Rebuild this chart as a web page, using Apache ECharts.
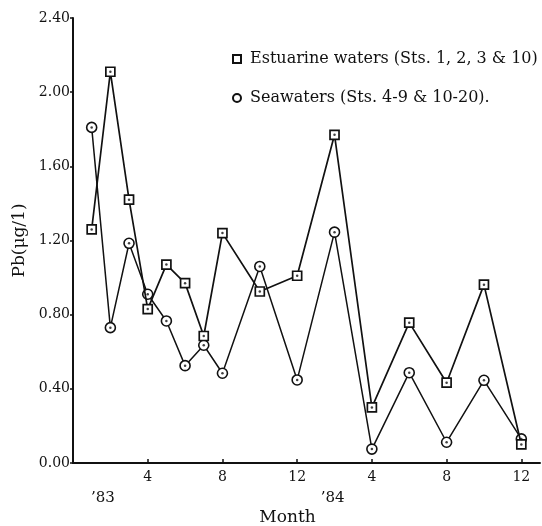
<!DOCTYPE html>
<html><head><meta charset="utf-8">
<script src="https://cdn.jsdelivr.net/npm/echarts@6/dist/echarts.min.js"></script>
<style>html,body{margin:0;padding:0;background:#fff}#c{width:542px;height:526px}</style>
</head><body><div id="c"></div>
<script>
const months = [1, 2, 3, 4, 5, 6, 7, 8, 10, 12, 14, 16, 18, 20, 22, 24];
const estuarine = [1.26, 2.11, 1.42, 0.83, 1.07, 0.97, 0.685, 1.24, 0.925, 1.01, 1.77, 0.30, 0.757, 0.433, 0.962, 0.10];
const seawaters = [1.81, 0.73, 1.185, 0.91, 0.766, 0.525, 0.635, 0.484, 1.06, 0.448, 1.245, 0.075, 0.487, 0.112, 0.446, 0.13];
const xTickLabels = {4: '4', 8: '8', 12: '12', 16: '4', 20: '8', 24: '12'};
const yearLabels = [{month: 1.6, text: '’83'}, {month: 13.9, text: '’84'}];
const seriesNames = ['Estuarine waters (Sts. 1, 2, 3 & 10)', 'Seawaters (Sts. 4-9 & 10-20).'];

const FONT = 'DejaVu Serif';
const INK = '#111';
const toPairs = arr => months.map((m, i) => [m, arr[i]]);

const chart = echarts.init(document.getElementById('c'), null, {renderer: 'canvas'});
const option = {
  backgroundColor: '#fff',
  animation: false,
  grid: {left: 73, right: 2, top: 18, bottom: 63, containLabel: false, outerBoundsMode: 'none'},
  legend: {
    orient: 'vertical', left: 227, top: 46, itemGap: 23,
    itemWidth: 8, itemHeight: 8,
    itemStyle: {color: '#fff', borderColor: INK, borderWidth: 2},
    textStyle: {fontFamily: FONT, fontSize: 16, color: INK, padding: [0, 0, 0, 4]},
    data: [{name: seriesNames[0], icon: 'rect'}, {name: seriesNames[1], icon: 'circle'}]
  },
  xAxis: {
    type: 'value', min: 0, max: 25, interval: 4,
    axisLine: {show: true, lineStyle: {color: INK, width: 2}},
    axisTick: {show: true, inside: true, length: 4, lineStyle: {color: INK, width: 1.5}},
    splitLine: {show: false},
    axisLabel: {
      fontFamily: FONT, fontSize: 14, color: INK, margin: 7,
      showMinLabel: false, showMaxLabel: false,
      formatter: v => xTickLabels[v] || ''
    },
    name: 'Month', nameLocation: 'middle', nameGap: 46,
    nameTextStyle: {fontFamily: FONT, fontSize: 17, color: INK, padding: [0, 38, 0, 0]}
  },
  yAxis: {
    type: 'value', min: 0, max: 2.4, interval: 0.4,
    axisLine: {show: true, lineStyle: {color: INK, width: 2}},
    axisTick: {show: true, inside: false, length: 3, lineStyle: {color: INK, width: 1.5}},
    splitLine: {show: false},
    axisLabel: {fontFamily: FONT, fontSize: 14, color: INK, margin: 3, formatter: v => v.toFixed(2)},
    name: 'Pb(μg/1)', nameLocation: 'middle', nameGap: 40, nameRotate: 90,
    nameTextStyle: {fontFamily: FONT, fontSize: 17, color: INK}
  },
  series: [
    {
      name: seriesNames[0], type: 'line', data: toPairs(estuarine),
      symbol: 'rect', symbolSize: 9, showAllSymbol: true,
      lineStyle: {color: INK, width: 1.7},
      itemStyle: {color: '#fff', borderColor: INK, borderWidth: 1.7},
      z: 3
    },
    {
      name: seriesNames[1], type: 'line', data: toPairs(seawaters),
      symbol: 'circle', symbolSize: 10, showAllSymbol: true,
      lineStyle: {color: INK, width: 1.5},
      itemStyle: {color: '#fff', borderColor: INK, borderWidth: 1.6},
      z: 2
    },
    {
      name: 'dotsE', type: 'scatter', data: toPairs(estuarine), symbol: 'circle', symbolSize: 2.5,
      itemStyle: {color: INK}, silent: true, z: 4
    },
    {
      name: 'dotsS', type: 'scatter', data: toPairs(seawaters), symbol: 'circle', symbolSize: 2.5,
      itemStyle: {color: INK}, silent: true, z: 4
    }
  ]
};
chart.setOption(option);

const axisY = chart.convertToPixel({gridIndex: 0}, [0, 0])[1];
chart.setOption({
  graphic: yearLabels.map(y => {
    const px = chart.convertToPixel({gridIndex: 0}, [y.month, 0])[0];
    return {
      type: 'text', x: px, y: axisY + 35,
      style: {text: y.text, fontFamily: FONT, fontSize: 15, fill: INK, textAlign: 'center', textVerticalAlign: 'middle'}
    };
  })
});
</script></body></html>
